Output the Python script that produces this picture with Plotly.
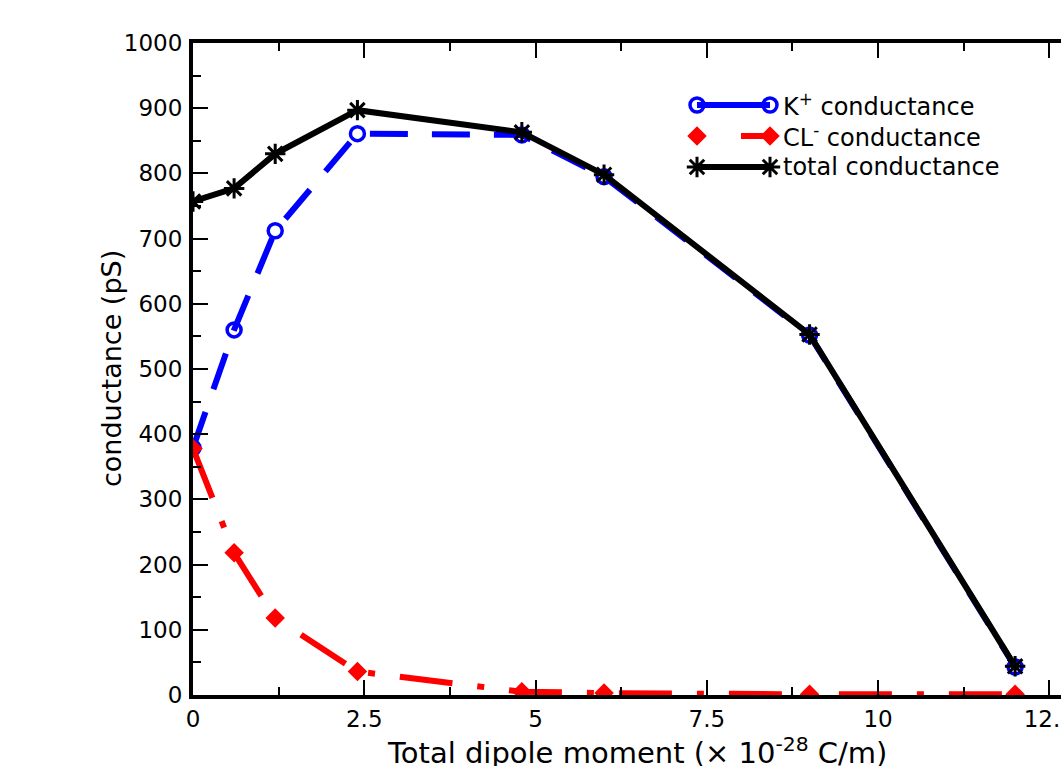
import plotly.graph_objects as go

x_dipole = [0, 0.6, 1.2, 2.4, 4.8, 6, 9, 12]
k_cond = [379, 560, 712, 861, 859, 795, 552, 43]
cl_cond = [378, 218, 118, 36, 5, 3, 1, 1]
total_cond = [757, 777, 830, 897, 863, 798, 553, 44]

x_ticks = [0, 2.5, 5, 7.5, 10, 12.5]
x_tick_text = ["0", "2.5", "5", "7.5", "10", "12.5"]
y_ticks = [0, 100, 200, 300, 400, 500, 600, 700, 800, 900, 1000]

legend_names = ["K<sup>+</sup> conductance", "CL<sup>-</sup> conductance", "total conductance"]

FONT = "DejaVu Sans, Liberation Sans, sans-serif"
BLUE, RED, BLACK = "#0000ff", "#ff0000", "#000000"

k_line = dict(color=BLUE, width=6, dash="38px,24px")
k_marker = dict(symbol="circle-open", size=14, color=BLUE, line=dict(width=3.5, color=BLUE))
cl_line = dict(color=RED, width=6, dash="53px,25px,7px,25px")
cl_marker = dict(symbol="diamond", size=15, color=RED)
tot_line = dict(color=BLACK, width=6)
tot_marker = dict(symbol="asterisk-open", size=17, color=BLACK, line=dict(width=3, color=BLACK))

fig = go.Figure()
fig.add_trace(go.Scatter(x=x_dipole, y=k_cond, mode="lines+markers", name=legend_names[0],
                         line=k_line, marker=k_marker, showlegend=False))
fig.add_trace(go.Scatter(x=x_dipole, y=cl_cond, mode="lines+markers", name=legend_names[1],
                         line=cl_line, marker=cl_marker, showlegend=False))
fig.add_trace(go.Scatter(x=x_dipole, y=total_cond, mode="lines+markers", name=legend_names[2],
                         line=tot_line, marker=tot_marker, showlegend=False))

# custom legend (samples on an overlay axis in 0..1 units of the plot area)
lg_x0, lg_x1 = (697 - 193) / 868, (770 - 193) / 868
lg_rows = [1 - (105 - 43) / 652, 1 - (136 - 43) / 652, 1 - (167 - 43) / 652]
lg_text_x = (781 - 193) / 868

fig.add_trace(go.Scatter(x=[lg_x0, lg_x1], y=[lg_rows[0]] * 2, mode="lines+markers",
                         line=dict(color=BLUE, width=6), marker=k_marker,
                         xaxis="x2", yaxis="y2", showlegend=False, hoverinfo="skip"))
fig.add_trace(go.Scatter(x=[lg_x0, lg_x1], y=[lg_rows[1]] * 2, mode="lines+markers",
                         line=dict(color=RED, width=6, dash="0px,44px,100px"), marker=cl_marker,
                         xaxis="x2", yaxis="y2", showlegend=False, hoverinfo="skip"))
fig.add_trace(go.Scatter(x=[lg_x0, lg_x1], y=[lg_rows[2]] * 2, mode="lines+markers",
                         line=tot_line, marker=tot_marker,
                         xaxis="x2", yaxis="y2", showlegend=False, hoverinfo="skip"))
for name, yy in zip(legend_names, lg_rows):
    fig.add_annotation(text=name, xref="paper", yref="paper", x=lg_text_x, y=yy,
                       xanchor="left", yanchor="middle", showarrow=False,
                       font=dict(size=24, family=FONT, color="black"))

fig.update_layout(
    width=1061, height=766,
    margin=dict(l=193, r=0, t=43, b=71, autoexpand=False),
    plot_bgcolor="white", paper_bgcolor="white",
    font=dict(family=FONT, color="black", size=23),
    showlegend=False,
    xaxis=dict(
        range=[0, 12.67], showgrid=False, zeroline=False, automargin=False,
        showline=True, linecolor="black", linewidth=4, mirror="ticks",
        ticks="inside", ticklen=15, tickwidth=2, tickcolor="black",
        tickvals=x_ticks, ticktext=x_tick_text, ticklabeloverflow="allow",
        tickfont=dict(size=23, family=FONT),
        minor=dict(ticks="inside", ticklen=8, tickwidth=2, tickcolor="black", dtick=1.25),
    ),
    yaxis=dict(
        range=[0, 1000], showgrid=False, zeroline=False, automargin=False,
        showline=True, linecolor="black", linewidth=4, mirror=False,
        ticks="inside", ticklen=15, tickwidth=2, tickcolor="black",
        tickvals=y_ticks, tickfont=dict(size=23, family=FONT),
        ticklabelstandoff=2,
        minor=dict(ticks="inside", ticklen=8, tickwidth=2, tickcolor="black", dtick=50),
    ),
    xaxis2=dict(overlaying="x", range=[0, 1], visible=False, fixedrange=True, automargin=False),
    yaxis2=dict(overlaying="y", range=[0, 1], visible=False, fixedrange=True, automargin=False),
)

fig.add_annotation(
    text="Total dipole moment (× 10<sup>-28</sup> C/m)",
    xref="paper", yref="paper", x=0.512, y=-0.053, xanchor="center", yanchor="top",
    showarrow=False, font=dict(size=29, family=FONT, color="black"),
)
fig.add_annotation(
    text="conductance (pS)",
    xref="paper", yref="paper", x=(111 - 193) / 868, y=0.5, xanchor="center", yanchor="middle",
    textangle=-90, showarrow=False, font=dict(size=27, family=FONT, color="black"),
)

fig.write_html("out.html")
